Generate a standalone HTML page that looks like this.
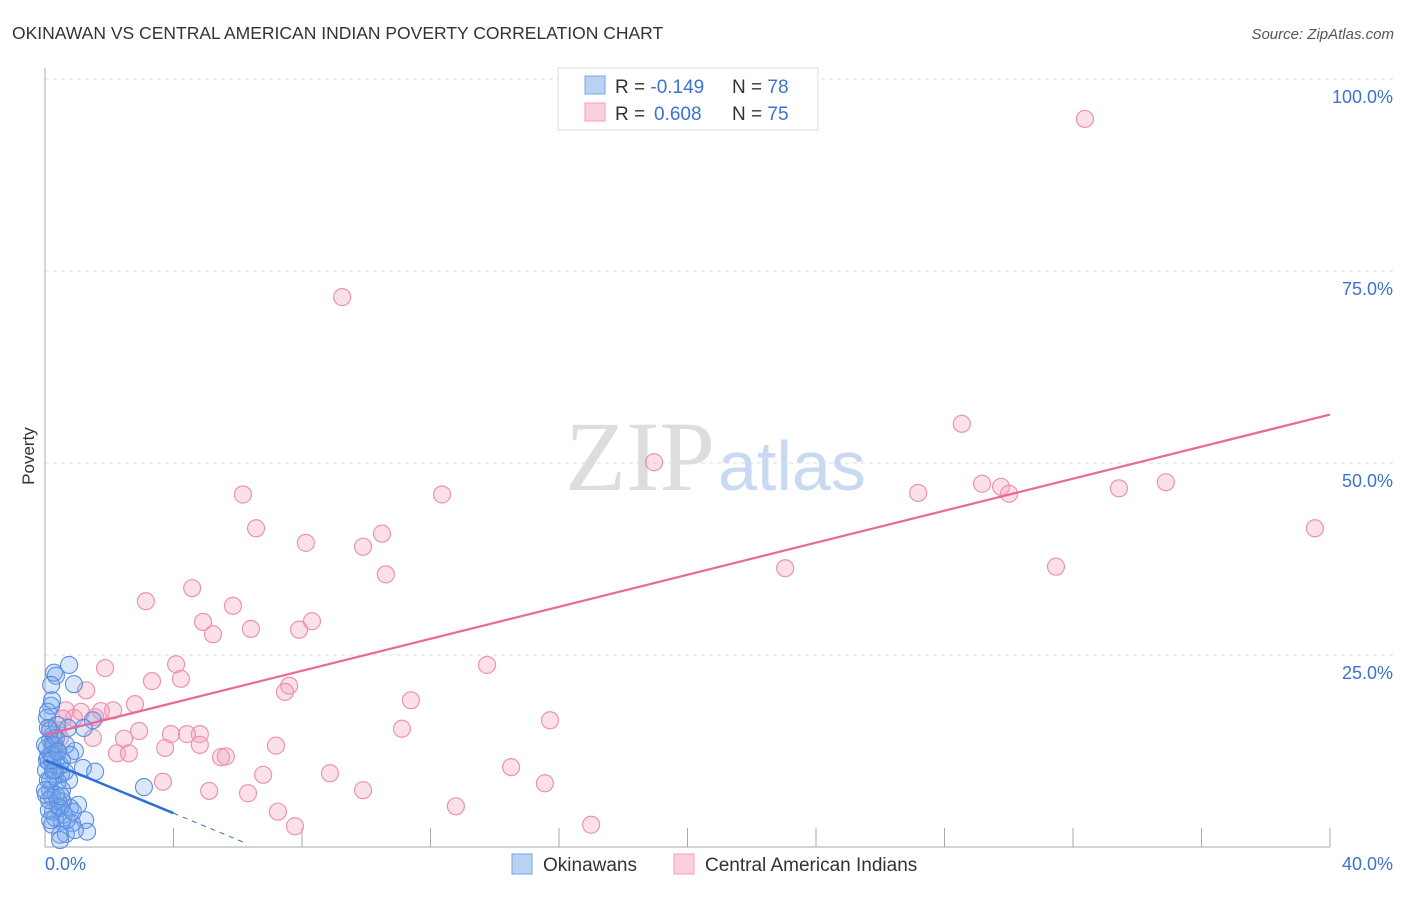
<!DOCTYPE html>
<html><head><meta charset="utf-8"><style>
body{margin:0;background:#fff;font-family:"Liberation Sans",sans-serif}
</style></head><body>
<svg id="c" width="1406" height="892" font-family="Liberation Sans, sans-serif">
<text x="12" y="39" font-size="17.5" fill="#333">OKINAWAN VS CENTRAL AMERICAN INDIAN POVERTY CORRELATION CHART</text>
<text x="1394" y="39" font-size="15" fill="#555" text-anchor="end" font-style="italic">Source: ZipAtlas.com</text>
<text x="34" y="456" font-size="17" fill="#333" transform="rotate(-90 34 456)" text-anchor="middle">Poverty</text>
<g id="grid"></g>
<text x="715" y="490" font-size="100" fill="#ddd" style="font-family:'Liberation Serif',serif" text-anchor="end">ZIP</text>
<text x="718" y="490" font-size="70" fill="#c9d9f2">atlas</text>
<g id="ticks"></g>
<g id="pts"></g>
<g id="lines"></g>
<g>
<rect x="558" y="68" width="260" height="62" fill="#fff" stroke="#ddd"/>
<rect x="585" y="76" width="20" height="18" fill="#b8d2f5" stroke="#7aa6e6"/>
<rect x="585" y="103" width="20" height="18" fill="#fbd0dc" stroke="#f0a0b8"/>
<text x="615" y="93" font-size="19" fill="#333">R = <tspan fill="#3b73d0">-0.149</tspan><tspan x="732">N = </tspan><tspan fill="#3b73d0">78</tspan></text>
<text x="615" y="120" font-size="19" fill="#333">R = <tspan x="654" fill="#3b73d0">0.608</tspan><tspan x="732">N = </tspan><tspan fill="#3b73d0">75</tspan></text>
</g>
<g>
<rect x="512" y="854" width="20" height="20" fill="#b8d2f5" stroke="#7aa6e6"/>
<text x="543" y="871" font-size="19" fill="#333">Okinawans</text>
<rect x="674" y="854" width="20" height="20" fill="#fbd0dc" stroke="#f0a0b8"/>
<text x="705" y="871" font-size="19" fill="#333">Central American Indians</text>
</g>
</svg>
<script>
const xTicks=[0,4,8,12,16,20,24,28,32,36,40];
const yTicks=[25,50,75,100];
const yTickLabels=["25.0%","50.0%","75.0%","100.0%"];
const xEndLabels=["0.0%","40.0%"];
const okiX=[0.75,0.28,0.34,0.19,0.9,0.19,0.06,1.49,0.72,1.21,0.16,0.22,0.93,0.09,0.03,0.31,1.18,1.56,0.5,0.75,0.16,0.22,0.56,0.4,0.78,0.25,0.31,0.53,1.25,1.31,0.84,0.22,0.47,0.65,3.08,0.12,0.16,0.34,0.47,0.06,0.25,0.37,0.03,0.4,0.12,0.59,0.93,0.47,0.28,0.16,0.37,0.09,0.22,0.53,0.4,0.62,0.06,0.19,0.0,0.34,0.09,0.31,0.53,0.65,0.78,0.09,0.25,0.47,0.68,0.16,0.87,1.03,0.34,0.12,0.5,0.0,0.22,0.4];
const okiY=[23.7,22.7,22.3,21.1,21.2,18.4,16.8,16.5,15.5,15.5,13.9,13.3,12.5,11.7,10.0,9.2,10.3,9.8,9.5,8.7,7.4,6.5,5.9,5.2,5.1,4.6,3.8,3.3,3.5,2.0,3.1,2.9,1.6,1.7,7.8,11.1,8.7,11.3,10.7,12.9,14.6,12.6,6.8,6.1,4.8,4.2,2.2,0.9,13.3,15.2,15.9,17.6,19.1,7.4,8.5,9.8,11.3,12.0,13.3,14.2,15.5,10.0,11.3,13.3,12.0,8.7,10.0,5.1,3.5,3.5,4.6,5.5,6.8,6.1,6.6,7.4,11.3,12.4];
const camX=[32.37,9.25,28.54,18.96,6.16,12.36,27.18,29.17,29.76,30.01,33.43,34.89,39.53,6.57,8.12,9.9,10.49,10.61,23.04,31.47,4.58,3.14,5.85,4.92,5.23,6.41,7.91,8.31,13.76,4.08,1.87,3.33,4.23,7.6,7.47,1.28,2.8,11.39,15.72,1.74,2.12,0.65,1.12,1.56,0.9,2.93,2.46,4.82,4.42,3.92,3.74,1.49,11.11,7.19,4.82,2.24,2.61,5.48,5.63,6.79,8.87,14.51,15.56,3.67,5.11,6.32,9.9,12.79,7.25,7.78,17.0,0.56,0.4,0.31,0.47,0.16];
const camY=[94.8,71.6,55.1,50.1,45.9,45.9,46.1,47.3,46.9,46.0,46.7,47.5,41.5,41.5,39.6,39.1,40.8,35.5,36.3,36.5,33.7,32.0,31.4,29.3,27.7,28.4,28.3,29.4,23.7,23.8,23.3,21.6,21.9,21.0,20.2,20.4,18.6,19.1,16.5,17.7,17.8,17.8,17.6,16.9,16.8,15.1,14.1,14.7,14.7,14.7,12.9,14.2,15.4,13.2,13.3,12.2,12.2,11.7,11.8,9.4,9.6,10.4,8.3,8.5,7.3,7.0,7.4,5.3,4.6,2.7,2.9,16.7,15.2,13.3,14.2,15.5];
const okiTrend=[11.3,4.4,0.5];const okiTrendX=[0,4,6.25];
const camTrend=[14.6,56.3];const camTrendX=[0,40];
const NS="http://www.w3.org/2000/svg";
const X=v=>45+v/40*1285, Y=v=>847-v/100*768;
function mk(t,a,p){const e=document.createElementNS(NS,t);for(const k in a)e.setAttribute(k,a[k]);p.appendChild(e);return e;}
const grid=document.getElementById('grid'),ticks=document.getElementById('ticks'),pts=document.getElementById('pts'),lines=document.getElementById('lines');
yTicks.forEach((v,i)=>{const l=mk('line',{x1:45,x2:1394,y1:Y(v),y2:Y(v),stroke:'#ddd','stroke-dasharray':'4,4'},grid);


const t=mk('text',{x:1393,y:Y(v)+24,'font-size':18,fill:'#3b73d0','text-anchor':'end'},grid);t.textContent=yTickLabels[i];

});
mk('line',{x1:45,x2:45,y1:68,y2:847,stroke:'#aaa'},ticks);
mk('line',{x1:45,x2:1330,y1:847,y2:847,stroke:'#aaa'},ticks);
xTicks.forEach(v=>{const l=mk('line',{x1:X(v),x2:X(v),y1:828,y2:847,stroke:'#aaa'},ticks);

});
[[0,'start'],[40,'end']].forEach(([v,a],i)=>{const t=mk('text',{x:i?1393:45,y:870,'font-size':18,fill:'#3b73d0','text-anchor':a},ticks);t.textContent=xEndLabels[i];

});
camX.forEach((v,i)=>{const c=mk('circle',{cx:X(v),cy:Y(camY[i]),r:8.5,fill:'rgba(244,160,188,0.32)',stroke:'#eb94b0','stroke-width':1.2},pts);

});
okiX.forEach((v,i)=>{const c=mk('circle',{cx:X(v),cy:Y(okiY[i]),r:8.5,fill:'rgba(120,168,238,0.28)',stroke:'#5b8ee0','stroke-width':1.1},pts);

});
const pl=mk('line',{x1:X(camTrendX[0]),y1:Y(camTrend[0]),x2:X(camTrendX[1]),y2:Y(camTrend[1]),stroke:'#e8689a','stroke-width':2.2},lines);


const bl=mk('line',{x1:X(okiTrendX[0]),y1:Y(okiTrend[0]),x2:X(okiTrendX[1]),y2:Y(okiTrend[1]),stroke:'#2d6fd6','stroke-width':2.5},lines);


const bd=mk('line',{x1:X(okiTrendX[1]),y1:Y(okiTrend[1]),x2:X(okiTrendX[2]),y2:Y(okiTrend[2]),stroke:'#2d6fd6','stroke-width':1,'stroke-dasharray':'5,5'},lines);


</script>
</body></html>
